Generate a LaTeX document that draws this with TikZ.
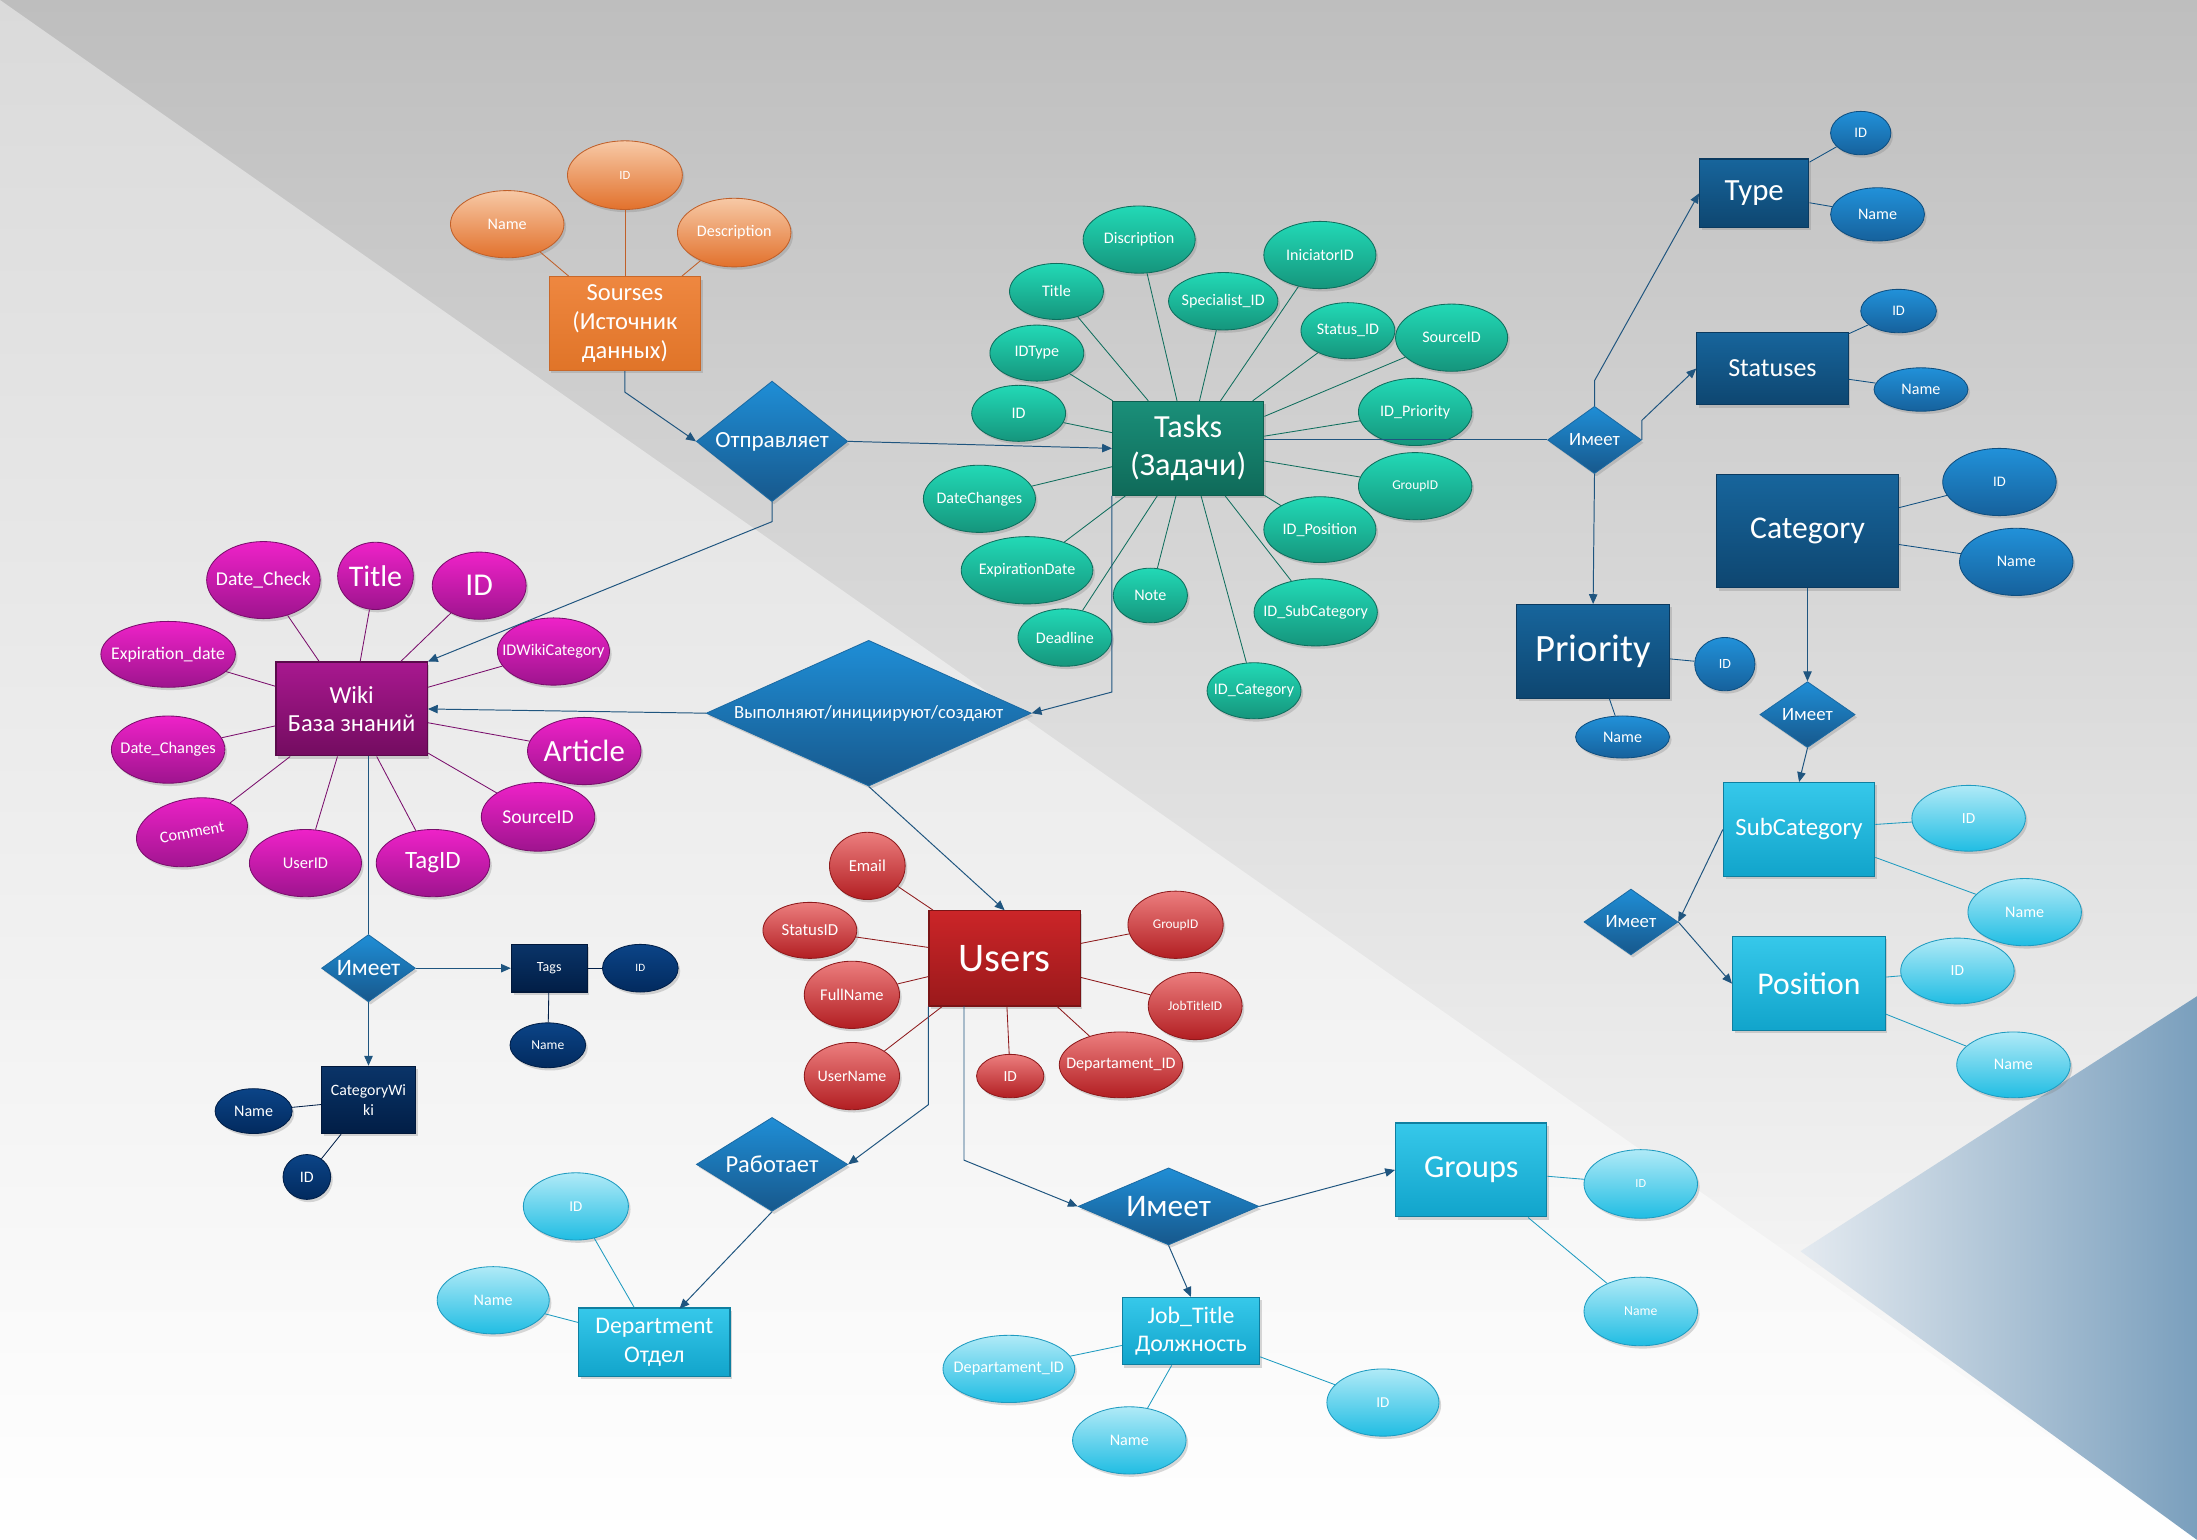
\documentclass[tikz,border=0pt]{standalone}
\usepackage{fontspec}
\setmainfont{Carlito}
\usetikzlibrary{shapes.geometric,arrows.meta,shadows}
\newcommand\zw[1]{\makebox[0pt]{#1}}
\newcommand\fsz[2]{\fontsize{#1}{#2}\selectfont}
\definecolor{bgT}{HTML}{BEBEBE}
\definecolor{bgL}{HTML}{DADADA}
\definecolor{triL}{HTML}{E4EAF0}
\definecolor{triR}{HTML}{7A9FBD}
\definecolor{arrc}{HTML}{1F557F}
\definecolor{relT}{HTML}{1F8ED6}
\definecolor{relB}{HTML}{17588C}
\definecolor{relD}{HTML}{1B6AA3}
\definecolor{oET}{HTML}{EE8740}
\definecolor{oEB}{HTML}{E07428}
\definecolor{oED}{HTML}{C8682A}
\definecolor{oAT}{HTML}{F7C9A6}
\definecolor{oAB}{HTML}{E2712C}
\definecolor{oAD}{HTML}{C0602A}
\definecolor{tET}{HTML}{1A8F79}
\definecolor{tEB}{HTML}{0F6A59}
\definecolor{tED}{HTML}{0D5E4F}
\definecolor{tAT}{HTML}{22D9B6}
\definecolor{tAB}{HTML}{15957C}
\definecolor{tAD}{HTML}{0F6E5D}
\definecolor{bET}{HTML}{17659C}
\definecolor{bEB}{HTML}{0E4670}
\definecolor{bED}{HTML}{0B3A5F}
\definecolor{bAT}{HTML}{2191D9}
\definecolor{bAB}{HTML}{16619C}
\definecolor{bAD}{HTML}{0F4F80}
\definecolor{nET}{HTML}{0A3468}
\definecolor{nEB}{HTML}{011E46}
\definecolor{nED}{HTML}{01183A}
\definecolor{nAT}{HTML}{0B4487}
\definecolor{nAB}{HTML}{022A5E}
\definecolor{nAD}{HTML}{011F48}
\definecolor{cET}{HTML}{36C8EA}
\definecolor{cEB}{HTML}{11A4CB}
\definecolor{cED}{HTML}{0F7FA0}
\definecolor{cAT}{HTML}{B0EAF7}
\definecolor{cAB}{HTML}{20BDE3}
\definecolor{cAD}{HTML}{1E9BC0}
\definecolor{pET}{HTML}{A8188F}
\definecolor{pEB}{HTML}{730C60}
\definecolor{pED}{HTML}{5A0A4B}
\definecolor{mAT}{HTML}{EE22C8}
\definecolor{mAB}{HTML}{9E148E}
\definecolor{mAD}{HTML}{7A0E6C}
\definecolor{rET}{HTML}{CB2528}
\definecolor{rEB}{HTML}{9A191B}
\definecolor{rED}{HTML}{7A1416}
\definecolor{rAT}{HTML}{EC7E7E}
\definecolor{rAB}{HTML}{B21E22}
\definecolor{rAD}{HTML}{8E1A1C}
\begin{document}
\begin{tikzpicture}[x=1pt,y=-1pt,
  shd/.style={drop shadow={shadow xshift=1.5pt,shadow yshift=-2pt,opacity=0.3}},
  sz/.style 2 args={minimum width=#1pt,minimum height=#2pt},
  ent/.style={rectangle,inner sep=0pt,align=center,text=white,shd,line width=0.8pt},
  att/.style={ellipse,inner sep=0pt,text=white,shd,line width=0.6pt,font=\fsz{11.5}{13}},
  rel/.style={diamond,inner sep=0pt,text=white,shd,top color=relT,bottom color=relB,draw=relD,line width=0.6pt},
  oE/.style={ent,top color=oET,bottom color=oEB,draw=oED},
  oA/.style={att,top color=oAT,bottom color=oAB,draw=oAD},
  tE/.style={ent,top color=tET,bottom color=tEB,draw=tED},
  tA/.style={att,top color=tAT,bottom color=tAB,draw=tAD},
  bE/.style={ent,top color=bET,bottom color=bEB,draw=bED},
  bA/.style={att,top color=bAT,bottom color=bAB,draw=bAD},
  nE/.style={ent,top color=nET,bottom color=nEB,draw=nED},
  nA/.style={att,top color=nAT,bottom color=nAB,draw=nAD},
  cE/.style={ent,top color=cET,bottom color=cEB,draw=cED},
  cA/.style={att,top color=cAT,bottom color=cAB,draw=cAD},
  pE/.style={ent,top color=pET,bottom color=pEB,draw=pED},
  mA/.style={att,top color=mAT,bottom color=mAB,draw=mAD},
  rE/.style={ent,top color=rET,bottom color=rEB,draw=rED},
  rA/.style={att,top color=rAT,bottom color=rAB,draw=rAD},
  arr/.style={draw=arrc,line width=0.7pt,-{Triangle[length=7pt,width=6pt]}},
  ln/.style={draw=arrc,line width=0.7pt},
  oL/.style={draw=oAD,line width=0.6pt},
  tL/.style={draw=tAD,line width=0.6pt},
  bL/.style={draw=bAD,line width=0.6pt},
  nL/.style={draw=nAD,line width=0.6pt},
  cL/.style={draw=cAD,line width=0.6pt},
  mL/.style={draw=mAD,line width=0.6pt},
  rL/.style={draw=rAD,line width=0.6pt}
]
% background
\useasboundingbox (0,0) rectangle (1568,1099);
\shade[top color=bgT,bottom color=white] (0,0) rectangle (1568,1099);
\shade[top color=bgL,bottom color=white] (0,0) -- (1568,1099) -- (0,1099) -- cycle;
\shade[left color=triL,right color=triR] (1285,893) -- (1568,711) -- (1568,1099) -- cycle;

% ===== Sourses =====
\node[oE,sz={108}{67},font=\fsz{17.5}{20.5}] (sour) at (446,231) {Sourses\\(Источник\\данных)};
\node[oA,sz={82}{49},font=\fsz{9}{11}] (sid) at (446,125) {\zw{ID}};
\node[oA,sz={81}{48}] (sname) at (362,160) {\zw{Name}};
\node[oA,sz={81}{49}] (sdesc) at (524,166) {\zw{Description}};
\draw[oL] (sid) -- (sour); \draw[oL] (sname) -- (sour); \draw[oL] (sdesc) -- (sour);

% ===== Tasks =====
\node[tE,sz={108}{67},font=\fsz{23}{27}] (tasks) at (848,320) {Tasks\\(Задачи)};
\node[tA,sz={80}{48}] (tdisc) at (813,171) {\zw{Discription}};
\node[tA,sz={67}{40}] (ttitle) at (754,208) {\zw{Title}};
\node[tA,sz={80}{48}] (tinic) at (942,182) {\zw{IniciatorID}};
\node[tA,sz={78}{41}] (tspec) at (873,215) {\zw{Specialist\_ID}};
\node[tA,sz={67}{40}] (tidtype) at (740,252) {\zw{IDType}};
\node[tA,sz={67}{40}] (tstat) at (962,236) {\zw{Status\_ID}};
\node[tA,sz={80}{48}] (tsrc) at (1036,241) {\zw{SourceID}};
\node[tA,sz={67}{40}] (tid) at (727,295) {\zw{ID}};
\node[tA,sz={81}{48}] (tprio) at (1010,294) {\zw{ID\_Priority}};
\node[tA,sz={80}{48}] (tdch) at (699,356) {\zw{DateChanges}};
\node[tA,sz={81}{48},font=\fsz{9.6}{11}] (tgrp) at (1010,347) {\zw{GroupID}};
\node[tA,sz={80}{47}] (tpos) at (942,378) {\zw{ID\_Position}};
\node[tA,sz={94}{48}] (texp) at (733,407) {\zw{ExpirationDate}};
\node[tA,sz={53}{39}] (tnote) at (821,425) {\zw{Note}};
\node[tA,sz={88}{48}] (tsubc) at (939,437) {\zw{ID\_SubCategory}};
\node[tA,sz={67}{41}] (tdead) at (760,455) {\zw{Deadline}};
\node[tA,sz={67}{40}] (tcat) at (895,493) {\zw{ID\_Category}};
\foreach \a in {tdisc,ttitle,tinic,tspec,tidtype,tstat,tsrc,tid,tprio,tdch,tgrp,tpos,texp,tnote,tsubc,tdead,tcat}
  \draw[tL] (\a) -- (tasks);

% ===== relationship diamonds =====
\node[rel,sz={108}{86},font=\fsz{16.5}{19}] (otp) at (551,315) {\zw{Отправляет}};
\node[rel,sz={232}{104},font=\fsz{13.3}{15}] (vyp) at (620,509) {\zw{Выполняют/инициируют/создают}};
\node[rel,sz={67}{48},font=\fsz{13.4}{15}] (im1) at (1138,314) {\zw{Имеет}};
\node[rel,sz={68}{47},font=\fsz{13.4}{15}] (im2) at (1290,510) {\zw{Имеет}};
\node[rel,sz={67}{47},font=\fsz{13.4}{15}] (im3) at (1164,658) {\zw{Имеет}};
\node[rel,sz={67}{48},font=\fsz{16.8}{19}] (im4) at (263,691) {\zw{Имеет}};
\node[rel,sz={129}{55},font=\fsz{22.4}{25}] (im5) at (834,861) {\zw{Имеет}};
\node[rel,sz={108}{67},font=\fsz{17.5}{20}] (rab) at (551,831) {\zw{Работает}};

% ===== Type / Statuses / Category / Priority =====
\node[bE,sz={78}{49},font=\fsz{22}{25}] (type) at (1252,138) {Type};
\node[bA,sz={43}{31},font=\fsz{10.4}{12}] (tyid) at (1328,95) {\zw{ID}};
\node[bA,sz={67}{38}] (tyname) at (1340,153) {\zw{Name}};
\draw[bL] (tyid) -- (type); \draw[bL] (tyname) -- (type);

\node[bE,sz={108}{52},font=\fsz{18.6}{21}] (stat) at (1265,263) {Statuses};
\node[bA,sz={54}{31},font=\fsz{10.4}{12}] (stid) at (1355,222) {\zw{ID}};
\node[bA,sz={67}{31}] (stname) at (1371,278) {\zw{Name}};
\draw[bL] (stid) -- (stat); \draw[bL] (stname) -- (stat);

\node[bE,sz={130}{81},font=\fsz{22.6}{26}] (cat) at (1290,379) {Category};
\node[bA,sz={81}{48},font=\fsz{10.4}{12}] (caid) at (1427,344) {\zw{ID}};
\node[bA,sz={81}{48}] (caname) at (1439,401) {\zw{Name}};
\draw[bL] (caid) -- (cat); \draw[bL] (caname) -- (cat);

\node[bE,sz={109}{67},font=\fsz{27.6}{31}] (prio) at (1137,465) {Priority};
\node[bA,sz={43}{38},font=\fsz{10}{12}] (prid) at (1231,474) {\zw{ID}};
\node[bA,sz={67}{30}] (prname) at (1158,526) {\zw{Name}};
\draw[bL] (prid) -- (prio); \draw[bL] (prname) -- (prio);

% ===== SubCategory / Position =====
\node[cE,sz={108}{67},font=\fsz{17.7}{20}] (subc) at (1284,592) {SubCategory};
\node[cA,sz={81}{47},font=\fsz{11}{13}] (scid) at (1405,584) {\zw{ID}};
\node[cA,sz={81}{48}] (scname) at (1445,651) {\zw{Name}};
\draw[cL] (scid) -- (subc); \draw[cL] (scname) -- (subc);

\node[cE,sz={109}{67},font=\fsz{22.6}{26}] (pos) at (1291,702) {Position};
\node[cA,sz={81}{47},font=\fsz{11}{13}] (poid) at (1397,693) {\zw{ID}};
\node[cA,sz={81}{47}] (poname) at (1437,760) {\zw{Name}};
\draw[cL] (poid) -- (pos); \draw[cL] (poname) -- (pos);

% ===== Wiki =====
\node[pE,sz={108}{67},font=\fsz{17.5}{20.5}] (wiki) at (251,506) {Wiki\\База знаний};
\node[mA,sz={81}{55},font=\fsz{14}{16}] (wdc) at (188,414) {\zw{Date\_Check}};
\node[mA,sz={54}{48},font=\fsz{21.4}{24}] (wtitle) at (268,411) {\zw{Title}};
\node[mA,sz={67}{48},font=\fsz{22.7}{25}] (wid) at (342,418) {\zw{ID}};
\node[mA,sz={96}{47},font=\fsz{12.7}{15}] (wexp) at (120,467) {\zw{Expiration\_date}};
\node[mA,sz={80}{48},font=\fsz{11.6}{13}] (wiwc) at (395,465) {\zw{IDWikiCategory}};
\node[mA,sz={81}{48},font=\fsz{11.7}{13}] (wdch) at (120,535) {\zw{Date\_Changes}};
\node[mA,sz={81}{48},font=\fsz{22}{25}] (wart) at (417,536) {\zw{Article}};
\node[mA,sz={81}{49},font=\fsz{14}{16}] (wsrc) at (384,583) {\zw{SourceID}};
\node[mA,sz={80}{48},font=\fsz{11.6}{13},rotate=10] (wcom) at (137,594) {\zw{Comment}};
\node[mA,sz={80}{48},font=\fsz{11.7}{13}] (wuid) at (218,616) {\zw{UserID}};
\node[mA,sz={81}{48},font=\fsz{17.8}{20}] (wtag) at (309,616) {\zw{TagID}};
\foreach \a in {wdc,wtitle,wid,wexp,wiwc,wdch,wart,wsrc,wcom,wuid,wtag}
  \draw[mL] (\a) -- (wiki);

% ===== Tags / CategoryWiki =====
\node[nE,sz={54}{34},font=\fsz{10}{12}] (tags) at (392,691) {Tags};
\node[nA,sz={54}{34},font=\fsz{8}{10}] (tgid) at (457,691) {\zw{ID}};
\node[nA,sz={54}{32},font=\fsz{9.7}{11}] (tgname) at (391,746) {\zw{Name}};
\draw[nL] (tgid) -- (tags); \draw[nL] (tgname) -- (tags);

\node[nE,sz={67}{48},font=\fsz{11.3}{14}] (cw) at (263,785) {CategoryWi\\ki};
\node[nA,sz={55}{32}] (cwname) at (181,793) {\zw{Name}};
\node[nA,sz={34}{32},font=\fsz{11.4}{13}] (cwid) at (219,840) {\zw{ID}};
\draw[nL] (cwname) -- (cw); \draw[nL] (cwid) -- (cw);

% ===== Users =====
\node[rE,sz={108}{68},font=\fsz{29}{32}] (users) at (717,684) {Users};
\node[rA,sz={54}{48},font=\fsz{11.9}{14}] (uemail) at (619,618) {\zw{Email}};
\node[rA,sz={67}{40},font=\fsz{12}{14}] (ustat) at (578,664) {\zw{StatusID}};
\node[rA,sz={68}{48},font=\fsz{11.7}{14}] (ufull) at (608,710) {\zw{FullName}};
\node[rA,sz={68}{48},font=\fsz{11.4}{14}] (uuser) at (608,768) {\zw{UserName}};
\node[rA,sz={48}{31},font=\fsz{11}{13}] (uid) at (721,768) {\zw{ID}};
\node[rA,sz={88}{47},font=\fsz{11.5}{13}] (udep) at (800,760) {\zw{Departament\_ID}};
\node[rA,sz={68}{48},font=\fsz{9.5}{11}] (ugrp) at (839,660) {\zw{GroupID}};
\node[rA,sz={67}{48},font=\fsz{9.6}{11}] (ujob) at (853,718) {\zw{JobTitleID}};
\foreach \a in {uemail,ustat,ufull,uuser,uid,udep,ugrp,ujob}
  \draw[rL] (\a) -- (users);

% ===== Department / Groups / Job_Title =====
\node[cE,sz={108}{49},font=\fsz{17}{20}] (dept) at (467,958) {Department\\Отдел};
\node[cA,sz={75}{48},font=\fsz{10.7}{13}] (dpid) at (411,861) {\zw{ID}};
\node[cA,sz={80}{48}] (dpname) at (352,928) {\zw{Name}};
\draw[cL] (dpid) -- (dept); \draw[cL] (dpname) -- (dept);

\node[cE,sz={108}{67},font=\fsz{23}{26}] (groups) at (1050,835) {Groups};
\node[cA,sz={81}{49},font=\fsz{8.8}{10}] (grid) at (1171,845) {\zw{ID}};
\node[cA,sz={81}{49},font=\fsz{9.8}{11}] (grname) at (1171,936) {\zw{Name}};
\draw[cL] (grid) -- (groups); \draw[cL] (grname) -- (groups);

\node[cE,sz={98}{48},font=\fsz{17}{20}] (jt) at (850,950) {Job\_Title\\Должность};
\node[cA,sz={94}{48},font=\fsz{11.6}{13}] (jtdep) at (720,977) {\zw{Departament\_ID}};
\node[cA,sz={81}{48}] (jtname) at (806,1028) {\zw{Name}};
\node[cA,sz={80}{48},font=\fsz{10.8}{13}] (jtid) at (987,1001) {\zw{ID}};
\draw[cL] (jtdep) -- (jt); \draw[cL] (jtname) -- (jt); \draw[cL] (jtid) -- (jt);

% ===== connectors =====
\draw[arr] (sour.south) -- ++(0,15) -- (otp.west);
\draw[arr] (otp.east) -- (tasks.west);
\draw[arr] (otp.south) -- ++(0,14) -- (wiki.north east);
\draw[arr] (tasks.south west) -- ++(0,140) -- (vyp.east);
\draw[arr] (vyp.west) -- (wiki.east);
\draw[arr] (vyp.south) -- (users.north);
\draw[ln] (tasks.east |- im1.west) -- (im1.west);
\draw[arr] (im1.north) -- ++(0,-18) -- (type.west);
\draw[arr] (im1.east) -- ++(0,-14) -- (stat.west);
\draw[arr] (im1.south) -- (prio.north);
\draw[arr] (cat.south) -- (im2.north);
\draw[arr] (im2.south) -- (subc.north);
\draw[arr] (subc.west) -- (im3.east);
\draw[arr] (im3.east) -- (pos.west);
\draw[ln] (wiki.south -| im4.north) -- (im4.north);
\draw[arr] (im4.east) -- (tags.west);
\draw[arr] (im4.south) -- (cw.north);
\draw[arr] (users.south west) -- ++(0,70) -- (rab.east);
\coordinate (ub) at (688,718);
\draw[arr] (ub) -- ++(0,110) -- (im5.west);
\coordinate (dt) at (485,934);
\draw[arr] (rab.south) -- (dt);
\draw[arr] (im5.east) -- (groups.west);
\draw[arr] (im5.south) -- (jt.north);
\end{tikzpicture}
\end{document}
